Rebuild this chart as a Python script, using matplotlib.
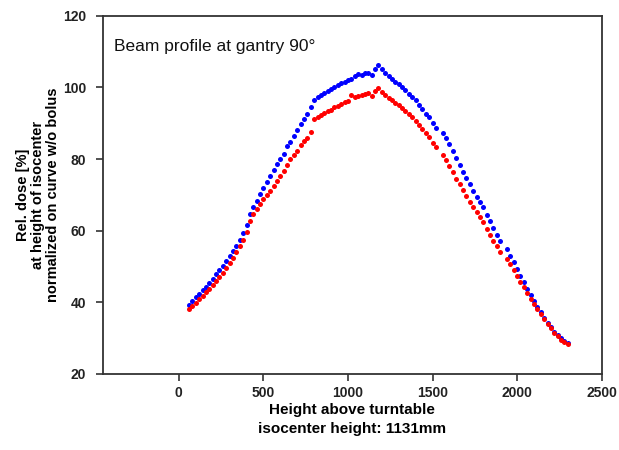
import numpy as np
import matplotlib
matplotlib.use("Agg")
import matplotlib.pyplot as plt

plt.rcParams['font.family'] = ['Liberation Sans', 'DejaVu Sans']

# Measurement positions (mm above turntable), 20 mm detector step
height_mm = np.arange(60, 2301, 20)

# Relative dose, blue series (upper curve)
dose_blue = [
    39.3, 40.4, 41.4, 42.4, 43.4, 44.4, 45.5, 46.6, 47.8, 49.0,
    50.2, 51.5, 52.8, 54.3, 55.8, 57.5, 59.3, 61.6, 64.6, 66.6,
    68.3, 70.3, 72.0, 73.6, 75.3, 76.9, 78.5, 80.0, 81.5, 83.5,
    84.8, 86.5, 88.0, 89.7, 91.2, 92.6, 94.6, 96.5, 97.2, 97.8,
    98.4, 99.0, 99.6, 100.2, 100.7, 101.2, 101.6, 102.0, 102.4, 103.2,
    103.7, 103.5, 104.1, 104.0, 103.4, 105.2, 106.3, 105.0, 104.0, 103.2,
    102.3, 101.6, 100.9, 100.0, 99.3, 98.2, 97.4, 96.5, 95.2, 93.9,
    92.7, 91.8, 90.0, 88.6, np.nan, 87.4, 85.8, 84.3, 82.3, 80.3,
    78.2, 76.5, 74.6, 72.9, 71.2, 69.5, 67.9, 66.5, 64.5, 62.6,
    60.7, 58.9, 57.0, np.nan, 54.8, 53.0, 51.3, 49.3, 47.4, 45.7,
    43.8, 42.0, 40.3, 38.7, 37.2, 35.7, 34.3, 33.1, 31.8, 30.8,
    29.9, 29.1, 28.6,
]

# Relative dose, red series (lower curve)
dose_red = [
    38.2, 39.0, 39.9, 40.8, 41.8, 42.8, 43.8, 44.9, 46.0, 47.1,
    48.3, 49.6, 51.0, 52.5, 54.0, 55.6, 57.4, 59.5, 62.8, 64.6,
    66.0, 67.5, 68.8, 70.0, 71.2, 72.5, 73.8, 75.2, 76.6, 78.2,
    80.0, 81.0, 82.3, 83.8, 85.0, 86.0, 87.6, 91.2, 91.8, 92.3,
    92.8, 93.3, 93.8, 94.4, 94.9, 95.5, 95.9, 96.3, 97.8, 97.2,
    97.5, 97.8, 98.2, 98.3, 97.5, 99.0, 99.9, 98.8, 97.9, 97.1,
    96.4, 95.6, 95.0, 94.3, 93.4, 92.7, 91.6, 90.7, 89.5, 88.4,
    87.3, 86.2, 84.5, 83.3, np.nan, 81.2, 79.6, 78.0, 76.3, 74.5,
    73.0, 71.3, 69.6, 68.0, 66.6, 65.2, 63.8, 62.3, 60.6, 58.8,
    57.2, 55.6, 54.0, np.nan, 52.0, 50.6, 49.0, 47.4, 45.8, 44.2,
    42.5, 41.0, 39.6, 38.1, 36.8, 35.4, 34.0, 32.7, 31.5, 30.5,
    29.6, 28.9, 28.4,
]

x_ticks = [0, 500, 1000, 1500, 2000, 2500]
y_ticks = [20, 40, 60, 80, 100, 120]

fig = plt.figure(figsize=(6.19, 4.5), dpi=100)
ax = fig.add_axes([0.166, 0.169, 0.806, 0.796])

ax.plot(height_mm, dose_blue, 'o', color='#0000ff', ms=3.6, mew=0)
ax.plot(height_mm, dose_red, 'o', color='#ff0000', ms=3.6, mew=0)

ax.set_xlim(-450, 2500)
ax.set_ylim(20, 120)
ax.set_xticks(x_ticks)
ax.set_yticks(y_ticks)

for side in ['left', 'right', 'top', 'bottom']:
    ax.spines[side].set_color('#333333')
    ax.spines[side].set_linewidth(1.3)

ax.tick_params(direction='out', length=5, width=1.2, color='#333333',
               labelsize=10, top=False, right=False)
ax.tick_params(axis='x', pad=4)
ax.tick_params(axis='y', pad=7)
for lbl in ax.get_xticklabels() + ax.get_yticklabels():
    lbl.set_fontweight('bold')
    lbl.set_color('#222222')

ax.set_xlabel("Height above turntable\nisocenter height: 1131mm",
              fontsize=11, fontweight='bold', labelpad=2, linespacing=1.45)
ax.set_ylabel("Rel. dose [%]\nat height of isocenter\nnormalized on curve w/o bolus",
              fontsize=10.5, fontweight='bold', labelpad=2, linespacing=1.1)

ax.text(0.023, 0.915, "Beam profile at gantry 90°", transform=ax.transAxes,
        fontsize=12.5, va='center', ha='left', color='#111111')

fig.savefig("out.png", dpi=100)
